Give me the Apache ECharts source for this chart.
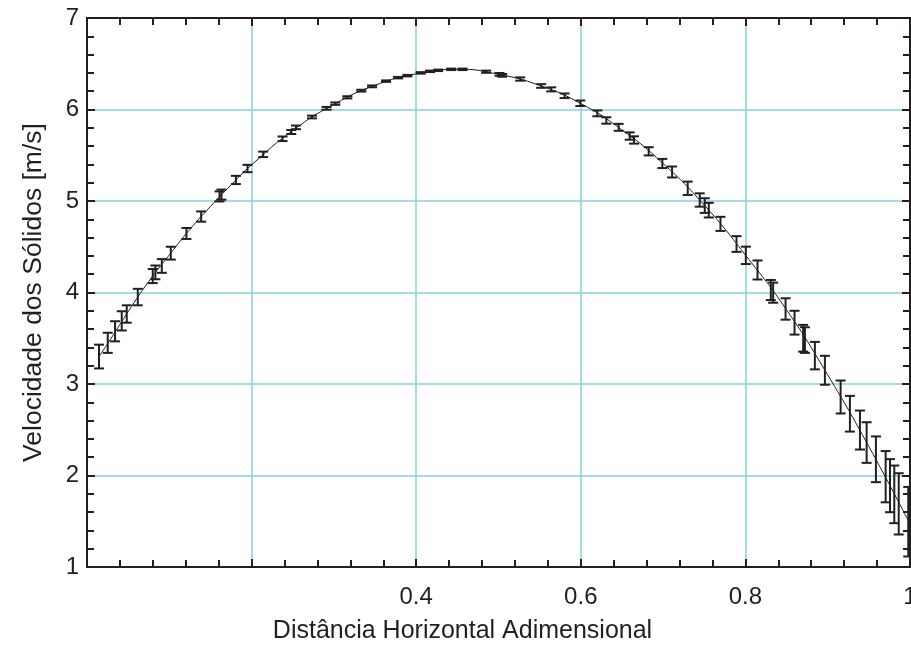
<!DOCTYPE html>
<html>
<head>
<meta charset="utf-8">
<script src="https://cdn.jsdelivr.net/npm/echarts@6/dist/echarts.min.js"></script>
<style>html,body{margin:0;padding:0;background:#fff;overflow:hidden}#c{width:911px;height:645px}</style>
</head>
<body>
<div id="c"></div>
<script>
// Error bar measurements: x (dimensionless), mean velocity, half error
const ptX = [0.0146,0.0252,0.0341,0.0422,0.0483,0.0617,0.0799,0.0831,0.0909,0.1018,0.1208,0.1387,0.1610,0.1634,0.1809,0.1950,0.2141,0.2376,0.2482,0.2539,0.2734,0.2911,0.3017,0.3163,0.3333,0.3464,0.3634,0.3780,0.3893,0.4055,0.4169,0.4267,0.4425,0.4562,0.4850,0.5012,0.5045,0.5264,0.5519,0.5641,0.5803,0.5994,0.6201,0.6310,0.6460,0.6594,0.6646,0.6825,0.6991,0.7109,0.7299,0.7445,0.7506,0.7555,0.7697,0.7892,0.8005,0.8147,0.8309,0.8337,0.8488,0.8597,0.8702,0.8723,0.8844,0.8966,0.9157,0.9270,0.9392,0.9473,0.9586,0.9704,0.9757,0.9809,0.9863,0.9979];
const ptV = [3.30,3.45,3.576,3.69,3.765,3.95,4.18,4.22,4.29,4.43,4.645,4.83,5.05,5.07,5.23,5.355,5.51,5.68,5.754,5.805,5.918,6.013,6.064,6.133,6.206,6.253,6.31,6.348,6.37,6.40,6.417,6.428,6.439,6.439,6.413,6.384,6.373,6.333,6.257,6.22,6.15,6.068,5.958,5.88,5.805,5.71,5.667,5.543,5.41,5.317,5.139,5.011,4.95,4.90,4.75,4.53,4.406,4.246,4.027,3.998,3.82,3.67,3.50,3.48,3.31,3.15,2.858,2.675,2.497,2.36,2.177,1.987,1.889,1.794,1.69,1.495];
const ptErr = [0.13,0.11,0.11,0.105,0.095,0.09,0.077,0.075,0.075,0.07,0.06,0.056,0.055,0.055,0.045,0.04,0.03,0.025,0.022,0.02,0.015,0.015,0.013,0.012,0.01,0.01,0.008,0.008,0.008,0.008,0.008,0.008,0.008,0.008,0.012,0.015,0.015,0.018,0.02,0.022,0.025,0.03,0.032,0.035,0.038,0.04,0.04,0.045,0.05,0.06,0.073,0.073,0.08,0.08,0.077,0.086,0.095,0.104,0.11,0.11,0.117,0.13,0.146,0.14,0.15,0.158,0.18,0.195,0.213,0.222,0.25,0.28,0.29,0.315,0.335,0.38];

// Fitted curve
const fitX = [0.0146,0.025,0.05,0.075,0.1,0.125,0.15,0.175,0.2,0.25,0.3,0.35,0.4,0.45,0.5,0.55,0.6,0.65,0.7,0.75,0.8,0.85,0.9,0.95,1.0];
const fitV = [3.30,3.44,3.79,4.12,4.41,4.69,4.94,5.176,5.395,5.77,6.056,6.265,6.39,6.44,6.385,6.263,6.065,5.777,5.41,4.955,4.41,3.81,3.10,2.317,1.47];

const xTickLabels = ['', '', '0.4', '0.6', '0.8', '1'];
const yTickLabels = ['1', '2', '3', '4', '5', '6', '7'];

const ink = '#231f20';
const gridCol = '#86d2de';
const font = "'Liberation Sans', Arial, Helvetica, sans-serif";

const errData = ptX.map((x, i) => [x, ptV[i], ptErr[i]]);
const fitData = fitX.map((x, i) => [x, fitV[i]]);

const chart = echarts.init(document.getElementById('c'), null, {renderer: 'canvas'});

function axisBase(extra) {
  return Object.assign({
    type: 'value',
    axisLine: {show: true, onZero: false, lineStyle: {color: ink, width: 2}},
    axisTick: {show: true, inside: true, length: 8, lineStyle: {color: ink, width: 2}},
    minorTick: {show: true, splitNumber: 5, length: 7, lineStyle: {color: ink, width: 2}},
    minorSplitLine: {show: false}
  }, extra);
}

chart.setOption({
  animation: false,
  backgroundColor: '#fff',
  grid: {left: 87, right: 1, top: 18, bottom: 78, containLabel: false, outerBoundsMode: 'none'},
  xAxis: [
    axisBase({
      position: 'bottom', min: 0, max: 1, interval: 0.2,
      name: 'Distância Horizontal Adimensional', nameLocation: 'middle', nameGap: 52,
      nameTextStyle: {color: ink, fontSize: 25, fontFamily: font, padding: [0, 72, 0, 0]},
      axisLabel: {color: ink, fontSize: 24, fontFamily: font, margin: 18,
        formatter: v => xTickLabels[Math.round(v / 0.2)] || ''},
      splitLine: {show: true, lineStyle: {color: gridCol, width: 1.5}}
    }),
    axisBase({
      position: 'top', min: 0, max: 1, interval: 0.2,
      axisLabel: {show: false}, splitLine: {show: false}
    })
  ],
  yAxis: [
    axisBase({
      position: 'left', min: 1, max: 7, interval: 1,
      name: 'Velocidade dos Sólidos [m/s]', nameLocation: 'middle', nameGap: 40, nameRotate: 90,
      nameTextStyle: {color: ink, fontSize: 26.5, fontFamily: font},
      axisLabel: {color: ink, fontSize: 24, fontFamily: font, margin: 8,
        formatter: v => yTickLabels[Math.round(v - 1)] || ''},
      splitLine: {show: true, lineStyle: {color: gridCol, width: 1.5}}
    }),
    axisBase({
      position: 'right', min: 1, max: 7, interval: 1,
      axisLabel: {show: false}, splitLine: {show: false}
    })
  ],
  series: [
    {
      type: 'line', data: fitData, smooth: true, showSymbol: false, symbol: 'none',
      lineStyle: {color: ink, width: 1}, z: 3
    },
    {
      type: 'custom', data: errData, encode: {x: 0, y: 1}, z: 4,
      renderItem: function (params, api) {
        const x = api.value(0), y = api.value(1), e = api.value(2);
        const lo = api.coord([x, y - e]);
        const hi = api.coord([x, y + e]);
        const hw = 5;
        const st = {stroke: ink, lineWidth: 2};
        return {
          type: 'group',
          children: [
            {type: 'line', shape: {x1: lo[0], y1: lo[1], x2: hi[0], y2: hi[1]}, style: st},
            {type: 'line', shape: {x1: lo[0] - hw, y1: lo[1], x2: lo[0] + hw, y2: lo[1]}, style: st},
            {type: 'line', shape: {x1: hi[0] - hw, y1: hi[1], x2: hi[0] + hw, y2: hi[1]}, style: st}
          ]
        };
      }
    }
  ]
});
</script>
</body>
</html>
